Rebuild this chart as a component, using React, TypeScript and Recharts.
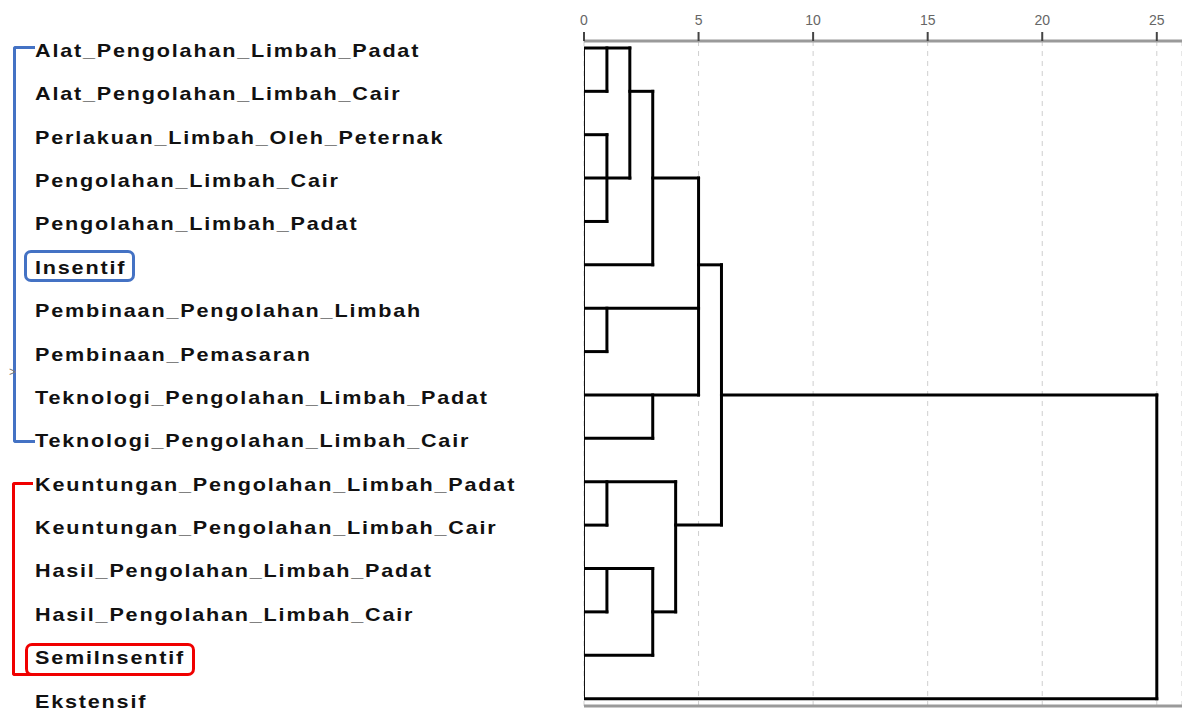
import React from 'react';
import { LineChart, Line, XAxis, YAxis, CartesianGrid } from 'recharts';

// leaf variables, top to bottom
const labels = [
    'Alat_Pengolahan_Limbah_Padat',
    'Alat_Pengolahan_Limbah_Cair',
    'Perlakuan_Limbah_Oleh_Peternak',
    'Pengolahan_Limbah_Cair',
    'Pengolahan_Limbah_Padat',
    'Insentif',
    'Pembinaan_Pengolahan_Limbah',
    'Pembinaan_Pemasaran',
    'Teknologi_Pengolahan_Limbah_Padat',
    'Teknologi_Pengolahan_Limbah_Cair',
    'Keuntungan_Pengolahan_Limbah_Padat',
    'Keuntungan_Pengolahan_Limbah_Cair',
    'Hasil_Pengolahan_Limbah_Padat',
    'Hasil_Pengolahan_Limbah_Cair',
    'SemiInsentif',
    'Ekstensif',
];

const distanceTicks = [0, 5, 10, 15, 20, 25];

// vertical links: rescaled distance of the join, rows it spans
const joins = [
    { d: 1, from: 0, to: 1 },
    { d: 1, from: 2, to: 4 },
    { d: 2, from: 0, to: 3 },
    { d: 3, from: 1, to: 5 },
    { d: 1, from: 6, to: 7 },
    { d: 3, from: 8, to: 9 },
    { d: 5, from: 3, to: 8 },
    { d: 6, from: 5, to: 11 },
    { d: 1, from: 10, to: 11 },
    { d: 1, from: 12, to: 13 },
    { d: 3, from: 12, to: 14 },
    { d: 4, from: 10, to: 13 },
    { d: 25, from: 8, to: 15 },
];

// horizontal branches: row, start distance, end distance
const branches = [
    { row: 0, s: 0, e: 2 },
    { row: 1, s: 0, e: 1 },
    { row: 1, s: 2, e: 3 },
    { row: 2, s: 0, e: 1 },
    { row: 3, s: 0, e: 2 },
    { row: 3, s: 3, e: 5 },
    { row: 4, s: 0, e: 1 },
    { row: 5, s: 0, e: 3 },
    { row: 5, s: 5, e: 6 },
    { row: 6, s: 0, e: 5 },
    { row: 7, s: 0, e: 1 },
    { row: 8, s: 0, e: 5 },
    { row: 8, s: 6, e: 25 },
    { row: 9, s: 0, e: 3 },
    { row: 10, s: 0, e: 4 },
    { row: 11, s: 0, e: 1 },
    { row: 11, s: 4, e: 6 },
    { row: 12, s: 0, e: 3 },
    { row: 13, s: 0, e: 1 },
    { row: 13, s: 3, e: 4 },
    { row: 14, s: 0, e: 3 },
    { row: 15, s: 0, e: 25 },
];

const BLUE = '#4472c4';
const RED = '#f00000';

const LeafTick = (props: any) => {
    const { y, payload } = props;
    // the source labels are stretched sideways
    return (
        <text
            transform={`translate(35, ${y + 9}) scale(1.2, 1)`}
            x={0}
            y={0}
            fill="#111"
            fontSize={18}
            fontWeight="bold"
            fontFamily="'Liberation Sans', Arial, sans-serif"
            style={{ letterSpacing: '1.5px' }}
        >
            {labels[payload.value]}
        </text>
    );
};

const DistTick = (props: any) => {
    const { x, payload } = props;
    return (
        <text x={x} y={25} textAnchor="middle" fill="#666" fontSize={14} fontFamily="'Liberation Sans', Arial, sans-serif">
            {payload.value}
        </text>
    );
};

const App: React.FC = () => {
    return (
        <div style={{ position: 'absolute', left: 0, top: 0, width: 1182, height: 710, background: '#fff' }}>
            <LineChart width={1182} height={710} margin={{ top: 1, right: 0, bottom: 0, left: 0 }}>
                <CartesianGrid horizontal={false} stroke="#cfcfcf" strokeDasharray="5 5" />
                <XAxis
                    type="number"
                    dataKey="x"
                    orientation="top"
                    domain={[0, 26.1]}
                    ticks={distanceTicks}
                    allowDataOverflow
                    height={40}
                    tickSize={9}
                    tick={<DistTick />}
                    tickLine={{ stroke: '#444', strokeWidth: 2 }}
                    axisLine={{ stroke: '#9a9a9a', strokeWidth: 3 }}
                />
                <XAxis
                    xAxisId="b"
                    type="number"
                    dataKey="x"
                    orientation="bottom"
                    domain={[0, 26.1]}
                    height={4}
                    tick={false}
                    tickLine={false}
                    axisLine={{ stroke: '#9a9a9a', strokeWidth: 3 }}
                />
                <YAxis
                    type="number"
                    dataKey="y"
                    reversed
                    domain={[-0.16, 15.17]}
                    allowDataOverflow
                    ticks={labels.map((_, i) => i)}
                    interval={0}
                    width={584}
                    tick={<LeafTick />}
                    tickLine={false}
                    axisLine={false}
                />
                <Line
                    data={[{ x: 0, y: 0 }, { x: 0, y: 15 }]}
                    dataKey="y"
                    stroke="#111"
                    strokeWidth={2}
                    dot={false}
                    activeDot={false}
                    isAnimationActive={false}
                />
                {joins.map((j, i) => (
                    <Line
                        key={'j' + i}
                        data={[{ x: j.d, y: j.from }, { x: j.d, y: j.to }]}
                        dataKey="y"
                        stroke="#000"
                        strokeWidth={3}
                        strokeLinecap="square"
                        dot={false}
                        activeDot={false}
                        isAnimationActive={false}
                    />
                ))}
                {branches.map((b, i) => (
                    <Line
                        key={'b' + i}
                        data={[{ x: b.s, y: b.row }, { x: b.e, y: b.row }]}
                        dataKey="y"
                        stroke="#000"
                        strokeWidth={3}
                        strokeLinecap="square"
                        dot={false}
                        activeDot={false}
                        isAnimationActive={false}
                    />
                ))}
            </LineChart>

            {/* group brackets and highlight boxes */}
            <div style={{ position: 'absolute', left: 13, top: 46, width: 22, height: 397, boxSizing: 'border-box', borderLeft: `3px solid ${BLUE}`, borderTop: `3px solid ${BLUE}`, borderBottom: `3px solid ${BLUE}`, borderRadius: '3px 0 0 3px' }} />
            <div style={{ position: 'absolute', left: 24, top: 250, width: 111, height: 32, boxSizing: 'border-box', border: `3px solid ${BLUE}`, borderRadius: 7 }} />
            <div style={{ position: 'absolute', left: 12, top: 482, width: 21, height: 194, boxSizing: 'border-box', borderLeft: `3px solid ${RED}`, borderTop: `3px solid ${RED}`, borderBottom: `3px solid ${RED}`, borderRadius: '3px 0 0 3px' }} />
            <div style={{ position: 'absolute', left: 25, top: 643, width: 170, height: 33, boxSizing: 'border-box', border: `3px solid ${RED}`, borderRadius: 7 }} />
            <div style={{ position: 'absolute', left: 9, top: 365, fontSize: 12, color: '#777', fontFamily: 'Arial, sans-serif' }}>&gt;</div>
        </div>
    );
};

export default App;
